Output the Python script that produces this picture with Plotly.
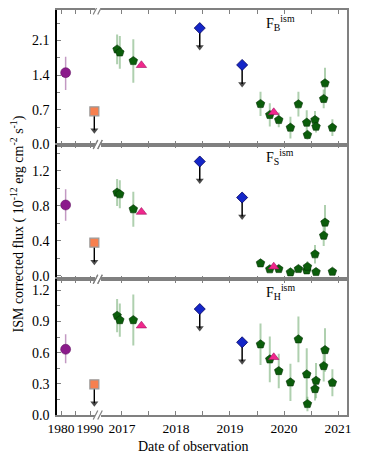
import plotly.graph_objects as go

# ---------------- data ----------------
purple_date = [1981.6]
orange_date = [1991.5]
green_dates = [2016.91, 2016.96, 2017.21, 2019.565, 2019.737, 2019.903, 2020.119,
               2020.267, 2020.421, 2020.434, 2020.574, 2020.593, 2020.735, 2020.759, 2020.896]
pink_dates = [2017.36, 2019.81]
blue_dates = [2018.44, 2019.225]

# F_B
B_purple = [1.45]
B_purple_up = [0.32]
B_purple_dn = [0.35]
B_orange = [0.67]
B_blue = [2.35, 1.606]
B_pink = [1.60, 0.65]
B_green = [1.92, 1.86, 1.686, 0.819, 0.597, 0.496, 0.341, 0.813, 0.442, 0.194, 0.496, 0.361, 0.92, 1.237, 0.341]
B_green_err = [0.30, 0.33, 0.44, 0.245, 0.235, 0.15, 0.22, 0.25, 0.25, 0.10, 0.18, 0.12, 0.19, 0.31, 0.17]

# F_S
S_purple = [0.81]
S_purple_up = [0.18]
S_purple_dn = [0.18]
S_orange = [0.38]
S_blue = [1.306, 0.895]
S_pink = [0.73, 0.106]
S_green = [0.952, 0.933, 0.762, 0.145, 0.077, 0.08, 0.042, 0.08, 0.065, 0.106, 0.248, 0.046, 0.461, 0.61, 0.049]
S_green_err = [0.155, 0.16, 0.20, 0.02, 0.02, 0.02, 0.02, 0.02, 0.02, 0.06, 0.105, 0.02, 0.12, 0.20, 0.02]

# F_H
H_purple = [0.632]
H_purple_up = [0.145]
H_purple_dn = [0.135]
H_orange = [0.295]
H_blue = [1.019, 0.699]
H_pink = [0.859, 0.555]
H_green = [0.955, 0.913, 0.913, 0.68, 0.535, 0.423, 0.314, 0.728, 0.391, 0.106, 0.25, 0.33, 0.471, 0.625, 0.311]
H_green_err = [0.16, 0.16, 0.245, 0.2, 0.22, 0.165, 0.18, 0.22, 0.25, 0.07, 0.11, 0.17, 0.15, 0.21, 0.13]

panel_labels = ["F<sub>B</sub><sup>ism</sup>", "F<sub>S</sub><sup>ism</sup>", "F<sub>H</sub><sup>ism</sup>"]
y_ranges = [[0, 2.715], [-0.038, 1.50], [0, 1.305]]
y_tickvals = [[0, 0.7, 1.4, 2.1], [0, 0.4, 0.8, 1.2], [0, 0.3, 0.6, 0.9, 1.2]]
y_minor = [0.35, 0.2, 0.15]
left_ticks = [1980, 1990]
right_ticks = [2017, 2018, 2019, 2020, 2021]

panels = [
    (B_purple, B_purple_up, B_purple_dn, B_orange, B_blue, B_pink, B_green, B_green_err),
    (S_purple, S_purple_up, S_purple_dn, S_orange, S_blue, S_pink, S_green, S_green_err),
    (H_purple, H_purple_up, H_purple_dn, H_orange, H_blue, H_pink, H_green, H_green_err),
]

# ---------------- geometry ----------------
W, H = 372, 456
PAGE_OFFSET = 8          # default page margin around the plot div
# plot-area edges as seen on the screen
SL, SR, ST, SB = 57, 347, 10, 415
PW, PH = SR - SL, SB - ST
L = SL - PAGE_OFFSET
T = ST - PAGE_OFFSET
R = W - L - PW
B = H - T - PH
def px_x(px):
    return (px - SL) / PW
def px_y(py):
    return (SB - py) / PH

row_tops = [10, 144.5, 279.3]
row_bots = [144.5, 279.3, 415]
left_dom = [0, px_x(95)]
right_dom = [px_x(101), 1]
left_range = [1980 - 4 / 2.9, 1990 + 5 / 2.9]
right_range = [2017 - 21 / 54.08, 2021 + 9 / 54.08]
ARROW_PX = 19  # arrow-head centre below the marker, in pixels

FONT = "Liberation Serif"
GRAY = "#808080"

fig = go.Figure()
layout = dict(
    width=W, height=H,
    margin=dict(l=L, r=R, t=T, b=B, autoexpand=False),
    paper_bgcolor="white", plot_bgcolor="white",
    showlegend=False,
    font=dict(family=FONT, size=14, color="black"),
)
annotations = []
shapes = []

for r, (pv, pu, pd, ov, bv, kv, gv, ge) in enumerate(panels):
    il, ir = 2 * r + 1, 2 * r + 2
    xl, xr = f"x{il}", f"x{ir}"
    yl, yr = f"y{il}", f"y{ir}"
    dom = [px_y(row_bots[r]), px_y(row_tops[r])]
    last = (r == 2)
    xcommon = dict(showline=True, linecolor=GRAY, linewidth=1.5, mirror="ticks",
                   ticks="inside", ticklen=4, tickcolor=GRAY, tickwidth=1,
                   showgrid=False, zeroline=False, showticklabels=last, tickangle=0,
                   automargin=False,
                   tickfont=dict(family=FONT, size=13.5, color="black"))
    layout[f"xaxis{il}"] = dict(domain=left_dom, range=left_range, anchor=yl,
                                tickvals=left_ticks, ticktext=[str(v) for v in left_ticks],
                                minor=dict(ticks="inside", ticklen=4, tickcolor=GRAY, tick0=1980, dtick=5),
                                **xcommon)
    layout[f"xaxis{ir}"] = dict(domain=right_dom, range=right_range, anchor=yr,
                                tickvals=right_ticks, ticktext=[str(v) for v in right_ticks],
                                minor=dict(ticks="inside", ticklen=4, tickcolor=GRAY, tick0=2017, dtick=0.5),
                                **xcommon)
    layout[f"yaxis{il}"] = dict(domain=dom, range=y_ranges[r], anchor=xl,
                                showline=True, linecolor="black", linewidth=1.5,
                                ticks="inside", ticklen=4, tickcolor=GRAY,
                                tickvals=y_tickvals[r], ticktext=[f"{v:.1f}" for v in y_tickvals[r]],
                                minor=dict(ticks="inside", ticklen=3, tickcolor=GRAY, tick0=0, dtick=y_minor[r]),
                                showgrid=False, zeroline=False, automargin=False,
                                tickfont=dict(family=FONT, size=14, color="black"),
                                ticklabelstandoff=3)
    layout[f"yaxis{ir}"] = dict(domain=dom, range=y_ranges[r], anchor=xr, side="right",
                                showline=True, linecolor=GRAY, linewidth=1.5, automargin=False,
                                ticks="", showticklabels=False, showgrid=False, zeroline=False)

    span = y_ranges[r][1] - y_ranges[r][0]
    panel_px = row_bots[r] - row_tops[r]
    drop = ARROW_PX / panel_px * span

    # upper-limit arrows (drawn first so markers sit on top)
    for xs, ys, xa, ya in ((orange_date, ov, xl, yl), (blue_dates, bv, xr, yr)):
        for xv, yv in zip(xs, ys):
            fig.add_trace(go.Scatter(x=[xv, xv], y=[yv, yv - drop], xaxis=xa, yaxis=ya,
                                     mode="lines+markers", line=dict(color="black", width=1.5),
                                     marker=dict(symbol="triangle-down", size=[0, 7], color="black",
                                                 line=dict(width=0)),
                                     hoverinfo="skip", cliponaxis=False))

    # purple circle
    fig.add_trace(go.Scatter(x=purple_date, y=pv, xaxis=xl, yaxis=yl, mode="markers",
                             marker=dict(symbol="circle", size=10, color="#8b1a8b",
                                         line=dict(color="#5a0e5a", width=0.5)),
                             error_y=dict(type="data", array=pu, arrayminus=pd, color="rgba(170,110,170,0.7)",
                                          thickness=1.5, width=0),
                             cliponaxis=False))
    # orange square (upper limit)
    fig.add_trace(go.Scatter(x=orange_date, y=ov, xaxis=xl, yaxis=yl, mode="markers",
                             marker=dict(symbol="square", size=9, color="#f7804f",
                                         line=dict(color="#9a9a9a", width=1.2)),
                             cliponaxis=False))
    # green pentagons
    fig.add_trace(go.Scatter(x=green_dates, y=gv, xaxis=xr, yaxis=yr, mode="markers",
                             marker=dict(symbol="pentagon", size=9, color="#0b5d0b",
                                         line=dict(color="#033303", width=0.6)),
                             error_y=dict(type="data", array=ge, color="rgba(110,170,110,0.55)",
                                          thickness=2, width=0),
                             cliponaxis=False))
    # pink triangles
    fig.add_trace(go.Scatter(x=pink_dates, y=kv, xaxis=xr, yaxis=yr, mode="markers",
                             marker=dict(symbol="triangle-up", size=9, color="#f0288c",
                                         line=dict(color="#a01060", width=0.6)),
                             cliponaxis=False))
    # blue diamonds (upper limits)
    fig.add_trace(go.Scatter(x=blue_dates, y=bv, xaxis=xr, yaxis=yr, mode="markers",
                             marker=dict(symbol="diamond", size=8.5, color="#1426c8",
                                         line=dict(color="#000060", width=0.8)),
                             cliponaxis=False))
    # panel label
    annotations.append(dict(x=px_x(264), y=px_y(row_tops[r] + 13), xref="paper", yref="paper",
                            text=panel_labels[r], showarrow=False, xanchor="left", yanchor="middle",
                            font=dict(family=FONT, size=14)))
    # axis break marks
    for yb in (row_tops[r], row_bots[r]):
        for xc in (95.5, 100.0):
            shapes.append(dict(type="line", xref="paper", yref="paper",
                               x0=px_x(xc - 2.3), y0=px_y(yb + 4.5),
                               x1=px_x(xc + 2.3), y1=px_y(yb - 4.5),
                               line=dict(color=GRAY, width=1.2)))

# axis titles
annotations.append(dict(x=px_x(193), y=px_y(446), xref="paper", yref="paper",
                        text="Date of observation", showarrow=False,
                        xanchor="center", yanchor="middle", font=dict(family=FONT, size=14)))
annotations.append(dict(x=px_x(18.5), y=px_y(224), xref="paper", yref="paper",
                        text="ISM corrected flux ( 10<sup>-12</sup> erg cm<sup>-2</sup> s<sup>-1</sup>)",
                        showarrow=False, textangle=-90, xanchor="center", yanchor="middle",
                        font=dict(family=FONT, size=14)))

layout["annotations"] = annotations
layout["shapes"] = shapes
fig.update_layout(**layout)
fig.write_html("out.html")
